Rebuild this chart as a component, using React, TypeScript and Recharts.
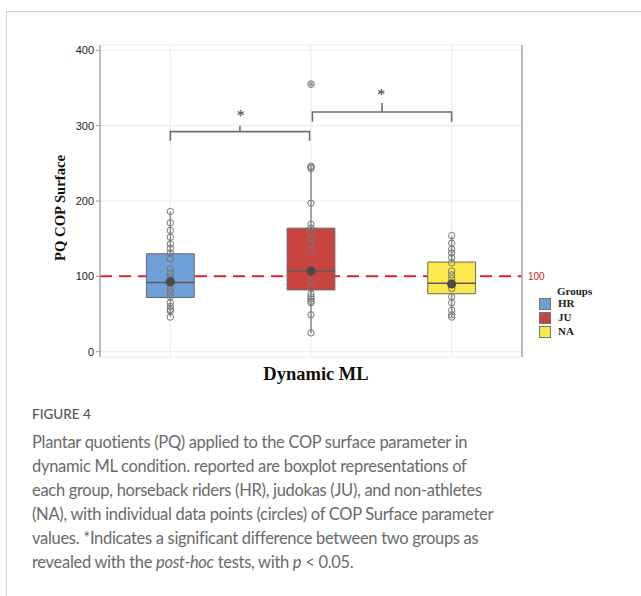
import React from 'react';
import {
  ComposedChart, XAxis, YAxis, CartesianGrid, Scatter, ReferenceArea, ReferenceLine,
} from 'recharts';

const groups = ['HR', 'JU', 'NA'];
const groupColors = ['#6f9fd9', '#c94340', '#fbe84b'];

// individual points
const hrValues = [186, 171, 161, 152, 143, 137, 131, 123, 110, 105, 100, 97, 88, 83, 78, 73, 65, 60, 56, 54, 46];
const juValues = [246, 245, 243, 197, 169, 164, 159, 150, 143, 135, 94, 84, 77, 73, 70, 67, 65, 49, 25];
const naValues = [154, 144, 136, 131, 125, 118, 107, 102, 97, 84, 73, 65, 55, 49, 46];
const groupValues = [hrValues, juValues, naValues];

// box statistics per group
const q1 = [72, 82, 77];
const medians = [92, 107, 91];
const q3 = [130, 164, 119];
const whiskerLow = [46, 25, 46];
const whiskerHigh = [186, 246, 154];
const means = [93, 107, 90];
const juOutliers = [355];

const yTicks = [0, 100, 200, 300, 400];
const refValue = 100;

// significance brackets
const comparisons = [['HR', 'JU'], ['JU', 'NA']];
const bracketBase = [280, 305];
const bracketTop = [292, 318];
const bracketTip = [300, 330];
const starY = [316, 343];

const BOX_HALF = 0.17;
const pos = (g: string) => groups.indexOf(g) + 0.5;

const pointData = groupValues.map((vals, i) => vals.map((v) => ({ x: i + 0.5, y: v })));
const meanData = means.map((m, i) => ({ x: i + 0.5, y: m }));
const outlierData = juOutliers.map((v) => ({ x: pos('JU'), y: v }));
const bracketData = comparisons.map(([a, b], i) => {
  const xa = pos(a) + (i === 0 ? 0 : 0.01);
  const xb = pos(b) - (i === 0 ? 0.01 : 0);
  const mid = (xa + xb) / 2;
  return [
    { x: xa, y: bracketBase[i] },
    { x: xa, y: bracketTop[i] },
    { x: mid, y: bracketTop[i] },
    { x: mid, y: bracketTip[i] },
    { x: mid, y: bracketTop[i] },
    { x: xb, y: bracketTop[i] },
    { x: xb, y: bracketBase[i] },
  ];
});
const starData = comparisons.map(([a, b], i) => ({ x: (pos(a) + pos(b)) / 2, y: starY[i] }));

const Hollow = (props: any) => (
  <circle cx={props.cx} cy={props.cy} r={3.2} fill="none" stroke="#777" strokeWidth={1} />
);
const MeanDot = (props: any) => <circle cx={props.cx} cy={props.cy} r={4.6} fill="#4b4b4b" />;
const OutlierMark = (props: any) => {
  const { cx, cy } = props;
  return (
    <g stroke="#888" strokeWidth={1} fill="none">
      <circle cx={cx} cy={cy} r={3.4} />
      <line x1={cx - 3.4} y1={cy} x2={cx + 3.4} y2={cy} />
      <line x1={cx} y1={cy - 3.4} x2={cx} y2={cy + 3.4} />
      <line x1={cx - 2.4} y1={cy - 2.4} x2={cx + 2.4} y2={cy + 2.4} />
      <line x1={cx - 2.4} y1={cy + 2.4} x2={cx + 2.4} y2={cy - 2.4} />
    </g>
  );
};
const Star = (props: any) => (
  <text x={props.cx} y={props.cy + 7} textAnchor="middle" fontSize={16} fill="#333"
    fontFamily="'Liberation Serif', serif">*</text>
);
const Nothing = () => <g />;

const serif = "'Liberation Serif', 'DejaVu Serif', serif";
const captionFont = "Lato, 'Open Sans', sans-serif";

export default function App() {
  return (
    <div style={{ position: 'absolute', left: 0, top: 0, width: 641, height: 596, background: '#fff', overflow: 'hidden' }}>
      <div style={{ position: 'absolute', left: 6, top: 11, width: 700, height: 700, borderLeft: '1.5px solid #d2d2d2', borderTop: '1.5px solid #d2d2d2' }} />
      <div style={{ position: 'absolute', left: 0, top: 0 }}>
        <ComposedChart width={641} height={380} margin={{ top: 45, right: 89, bottom: 23, left: 60 }}>
          <CartesianGrid stroke="#ebebeb" strokeWidth={1} />
          <XAxis type="number" dataKey="x" domain={[0, 3]} ticks={[0.5, 1.5, 2.5]} hide allowDataOverflow />
          <YAxis type="number" dataKey="y" domain={[-7, 407]} ticks={yTicks} width={40} allowDataOverflow
            axisLine={{ stroke: '#a8a8a8', strokeWidth: 1.5 }} tickLine={{ stroke: '#999' }} tickSize={4} tickMargin={2}
            tick={{ fontSize: 11, fill: '#222', fontFamily: "'Liberation Sans', Arial, sans-serif" }} />
          <YAxis yAxisId="r" orientation="right" type="number" domain={[-7, 407]} ticks={[refValue]} width={30} allowDataOverflow
            axisLine={{ stroke: '#a8a8a8', strokeWidth: 1.5 }} tickLine={false} tickSize={4} tickMargin={2}
            tick={{ fontSize: 10, fill: '#c62828', fontFamily: "'Liberation Sans', Arial, sans-serif" }} />

          {groups.map((g, i) => (
            <ReferenceLine key={'w' + g} zIndex={20} segment={[{ x: i + 0.5, y: whiskerLow[i] }, { x: i + 0.5, y: whiskerHigh[i] }]}
              stroke="#8a8a8a" strokeWidth={1.5} />
          ))}
          <ReferenceLine y={refValue} zIndex={30} stroke="#d7262b" strokeWidth={2} strokeDasharray="12 7" />
          {groups.map((g, i) => (
            <ReferenceArea key={'b' + g} zIndex={100} x1={i + 0.5 - BOX_HALF} x2={i + 0.5 + BOX_HALF} y1={q1[i]} y2={q3[i]}
              fill={groupColors[i]} fillOpacity={1} stroke="#6a6a6a" strokeWidth={1} />
          ))}
          {groups.map((g, i) => (
            <ReferenceLine key={'m' + g} zIndex={150} segment={[{ x: i + 0.5 - BOX_HALF, y: medians[i] }, { x: i + 0.5 + BOX_HALF, y: medians[i] }]}
              stroke="#5a5a5a" strokeWidth={1.5} />
          ))}

          {pointData.map((d, i) => (
            <Scatter key={'p' + i} data={d} shape={Hollow} isAnimationActive={false} />
          ))}
          <Scatter data={outlierData} shape={OutlierMark} isAnimationActive={false} />
          <Scatter data={meanData} shape={MeanDot} isAnimationActive={false} />
          {bracketData.map((d, i) => (
            <Scatter key={'br' + i} data={d} shape={Nothing} line={{ stroke: '#6e6e6e', strokeWidth: 1.6 }}
              lineJointType="linear" isAnimationActive={false} />
          ))}
          <Scatter data={starData} shape={Star} isAnimationActive={false} />
        </ComposedChart>
      </div>

      <div style={{ position: 'absolute', left: 60, top: 208, transform: 'translate(-50%, -50%) rotate(-90deg)', whiteSpace: 'nowrap',
        fontFamily: serif, fontWeight: 700, fontSize: 14.7, color: '#111' }}>PQ COP Surface</div>
      <div style={{ position: 'absolute', left: 316, top: 374, transform: 'translate(-50%, -50%)', whiteSpace: 'nowrap',
        fontFamily: serif, fontWeight: 700, fontSize: 18.5, color: '#111' }}>Dynamic ML</div>

      <div style={{ position: 'absolute', left: 557, top: 285, fontFamily: serif, fontWeight: 700, fontSize: 11, lineHeight: '13px', color: '#222' }}>Groups</div>
      {groups.map((g, i) => (
        <React.Fragment key={'lg' + g}>
          <div style={{ position: 'absolute', left: 539, top: 298 + i * 14, width: 10, height: 10, background: groupColors[i], border: '1px solid #777' }} />
          <div style={{ position: 'absolute', left: 558, top: 297 + i * 14, fontFamily: serif, fontWeight: 700, fontSize: 11, lineHeight: '13px', color: '#222' }}>{g}</div>
        </React.Fragment>
      ))}

      <div style={{ position: 'absolute', left: 32, top: 406, fontFamily: captionFont, fontSize: 13.5, lineHeight: '16px', color: '#555', fontWeight: 500 }}>FIGURE 4</div>
      <div style={{ position: 'absolute', left: 32, top: 430, fontFamily: captionFont, fontSize: 16.5, letterSpacing: -0.3, lineHeight: '24px', color: '#6a6a6a', whiteSpace: 'nowrap' }}>
        <div>Plantar quotients (PQ) applied to the COP surface parameter in</div>
        <div>dynamic ML condition. reported are boxplot representations of</div>
        <div>each group, horseback riders (HR), judokas (JU), and non-athletes</div>
        <div>(NA), with individual data points (circles) of COP Surface parameter</div>
        <div>values. *Indicates a significant difference between two groups as</div>
        <div>revealed with the <i>post-hoc</i> tests, with <i>p</i> &lt; 0.05.</div>
      </div>
    </div>
  );
}
